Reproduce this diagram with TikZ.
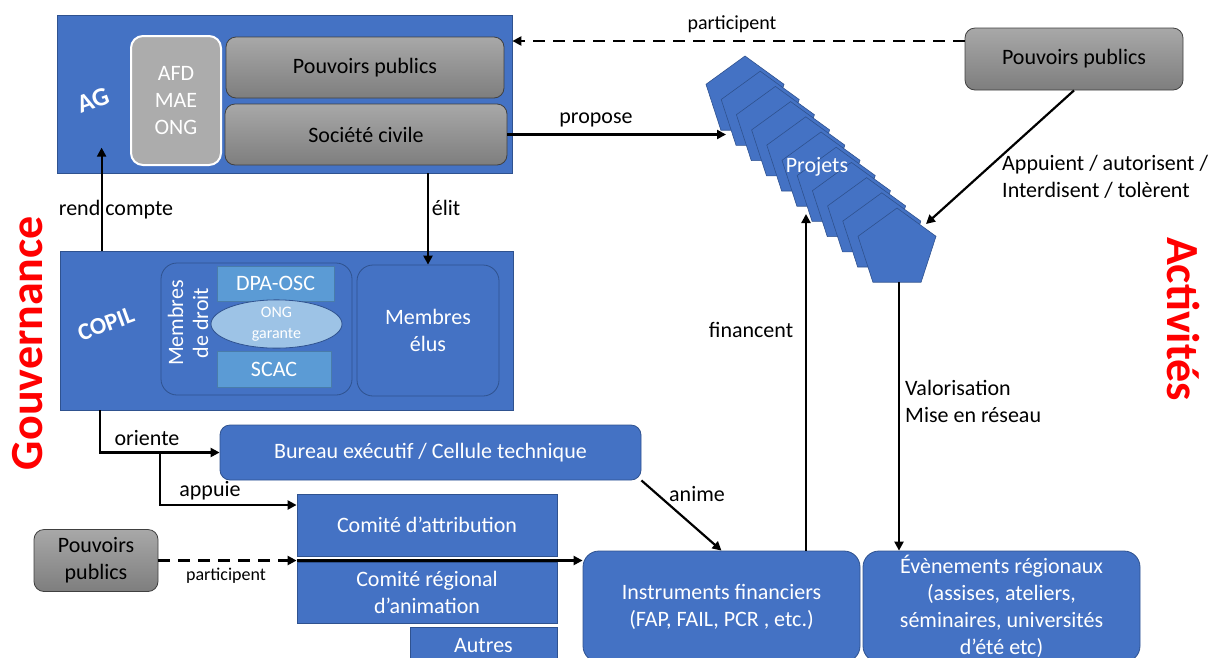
\documentclass[tikz,border=0pt]{standalone}
\usepackage{fontspec}
\setmainfont{Carlito}
\usetikzlibrary{arrows.meta,calc,shapes.geometric}
\definecolor{bl}{HTML}{4472C4}
\definecolor{bldark}{HTML}{2F528F}
\definecolor{lb}{HTML}{5B9BD5}
\definecolor{lbb}{HTML}{9DC3E6}
\definecolor{rd}{HTML}{FF0000}
\definecolor{gtop}{HTML}{A8A8A8}
\definecolor{gbot}{HTML}{7E7E7E}
\begin{document}
\begin{tikzpicture}[x=1pt,y=-1pt,
  every node/.style={inner sep=0pt},
  f22/.style={font=\fontsize{22}{27}\selectfont},
  box/.style={draw=bldark, fill=bl, text=white, line width=0.8, align=center, f22},
  rbox/.style={box, rounded corners=12},
  gbox/.style={draw=black!75, top color=gtop, bottom color=gbot, rounded corners=10, align=center, line width=0.8, f22},
  arr/.style={line width=2.2, -{Triangle[length=9,width=9]}},
  darr/.style={arr, dash pattern=on 12 off 8},
  lbl/.style={f22, text=black},
  big/.style={font=\fontsize{46}{52}\selectfont\bfseries, text=rd},
  pent/.style={fill=bl, draw=bldark, line width=0.6}
]
\useasboundingbox (0,0) rectangle (1218,657);

% ---------- AG ----------
\node[box, minimum width=455, minimum height=158] (ag) at (284.5,94) {};
\node[text=white, font=\fontsize{26}{30}\selectfont\bfseries, rotate=20] (agt) at (93,100) {AG};
\node[draw=white, line width=2, fill=gtop!95!white, rounded corners=12, minimum width=90, minimum height=129, text=white, align=center, f22] (afd) at (176,100.5) {AFD\\MAE\\ONG};
\node[gbox, minimum width=278, minimum height=61] (pp) at (365,67.5) {Pouvoirs publics};
\node[gbox, minimum width=282, minimum height=61] (sc) at (366,134.5) {Société civile};

% ---------- COPIL ----------
\node[box, minimum width=453, minimum height=159] (copil) at (286.5,330.5) {};
\node[text=white, font=\fontsize{24}{28}\selectfont\bfseries, rotate=20] (copilt) at (106,324) {COPIL};
\node[rbox, minimum width=191, minimum height=132, rounded corners=16] (md) at (256.5,329) {};
\node[text=white, align=center, rotate=90, font=\fontsize{22}{25}\selectfont] (mdt) at (188,323) {Membres\\de droit};
\node[box, fill=lb, draw=lb!80!black, minimum width=117, minimum height=35] (dpa) at (275.5,283.5) {DPA-OSC};
\node[draw=bldark, fill=lbb, ellipse, minimum width=131, minimum height=46, text=white, align=center, font=\fontsize{16}{21}\selectfont, line width=0.8] (ong) at (276.5,324) {ONG\\garante};
\node[box, fill=lb, draw=lb!80!black, minimum width=114, minimum height=36] (scac) at (274,369) {SCAC};
\node[rbox, minimum width=142, minimum height=131, rounded corners=16] (me) at (428,330.5) {Membres\\élus};

% ---------- lower left ----------
\node[rbox, rounded corners=10, minimum width=421, minimum height=55] (bureau) at (430.5,452.5) {Bureau exécutif / Cellule technique};
\node[box, minimum width=260, minimum height=62] (ca) at (427,525) {Comité d’attribution};
\node[box, minimum width=260, minimum height=61] (cr) at (427,592.5) {Comité régional\\d’animation};
\node[box, minimum width=147, minimum height=38] (autres) at (483.5,646) {Autres};
\node[gbox, minimum width=124, minimum height=62] (ppl) at (96,560.5) {Pouvoirs\\publics};

% ---------- lower right ----------
\node[rbox, rounded corners=16, minimum width=277, minimum height=111] (instr) at (721.5,606.5) {Instruments financiers\\(FAP, FAIL, PCR , etc.)};
\node[rbox, rounded corners=16, minimum width=277, minimum height=111] (ev) at (1001.5,606.5) {Évènements régionaux\\(assises, ateliers,\\séminaires, universités\\d’été etc)};

% ---------- top right ----------
\node[gbox, minimum width=218, minimum height=62] (ppr) at (1074,59) {Pouvoirs publics};

% ---------- Projets (stack of pentagons) ----------
\foreach \i in {0,...,10}{
  \fill[pent] ($(745,97)+(15.2*\i,15.2*\i)$) ++(0,-41) -- ++(39,28.3) -- ++(-14.9,45.9) -- ++(-48.2,0) -- ++(-14.9,-45.9) -- cycle;
}
\node[text=white, f22] (proj) at (817,167) {Projets};
\coordinate (pin) at (726,137);
\coordinate (pf) at (806,214);
\coordinate (pv) at (899,282);
\coordinate (pa) at (926,224);

% ---------- side titles ----------
\node[big, rotate=90] (gouv) at (28,343) {Gouvernance};
\node[big, rotate=-90] (act) at (1183,319) {Activités};

% ---------- connectors ----------
\draw[darr] ([yshift=18]ppr.west) coordinate (pw) -- (pw -| ag.east);
\node[lbl, font=\fontsize{20}{24}\selectfont] (l1) at (732,24) {participent};
\draw[arr] (sc.east) -- (sc.east -| pin);
\node[lbl] (l2) at (596,120) {propose};
\draw[arr] (me.north |- ag.south) -- (me.north);
\node[lbl] (l3) at (446,208) {élit};
\draw[arr] ([xshift=42]copil.north west) -- ++(0,-103);
\node[lbl] (l4) at (116,210) {rend compte};
\draw[arr] ([xshift=40]copil.south west) |- (bureau.west);
\node[lbl] (l5) at (147,438) {oriente};
\coordinate (br) at ([xshift=100]copil.south west |- bureau.west);
\draw[arr] (br) |- ([yshift=20]ca.west);
\node[lbl] (l6) at (210,491) {appuie};
\draw[darr] (ppl.east) -- (ppl.east -| ca.west);
\draw[arr] (ppl.east -| ca.west) -- (ppl.east -| instr.west);
\node[lbl, font=\fontsize{18}{22}\selectfont] (l7) at (226,576) {participent};
\draw[arr] (bureau.south east) -- (instr.north);
\node[lbl] (l8) at (697,494) {anime};
\draw[arr] (pf |- instr.north) -- (pf);
\node[lbl] (l9) at (751,330) {financent};
\draw[arr] (pv) -- (pv |- ev.north);
\node[lbl, anchor=west, align=left] (l10) at (905,401) {Valorisation\\Mise en réseau};
\draw[arr] (ppr.south) -- (pa);
\node[lbl, anchor=west, align=left] (l11) at (1002,177) {Appuient / autorisent /\\Interdisent / tolèrent};
\end{tikzpicture}
\end{document}
